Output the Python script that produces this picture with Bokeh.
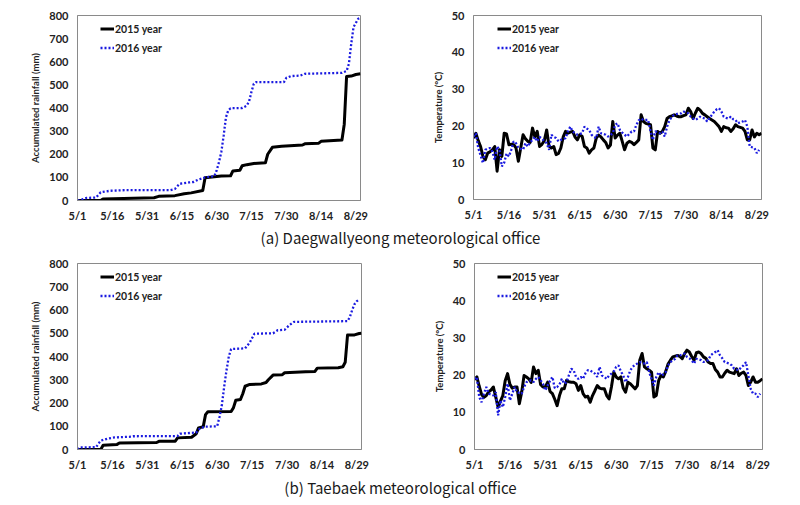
import numpy as np
from bokeh.plotting import figure
from bokeh.layouts import column, row
from bokeh.models import FixedTicker, Range1d, Legend, LegendItem
from bokeh.core.properties import value
from bokeh.embed import file_html
from bokeh.resources import INLINE

# ---------------- data ----------------
tick_days = [0, 15, 30, 45, 60, 75, 90, 105, 120]
tick_labels = ["5/1", "5/16", "5/31", "6/15", "6/30", "7/15", "7/30", "8/14", "8/29"]
n_days = 123  # 5/1 .. 8/31

# accumulated rainfall (mm), Daegwallyeong: (day index, value)
rain15_a_day = [0, 10, 11, 33, 35, 42, 46, 49, 54, 55, 60, 62, 66, 67, 70, 71, 73, 76, 81, 82, 84, 88, 97, 98, 104, 105, 114, 115, 116, 118, 120, 122]
rain15_a_mm = [0, 0, 7, 12, 18, 21, 29, 33, 43, 98, 104, 106, 107, 128, 131, 150, 155, 160, 163, 200, 230, 235, 240, 245, 248, 256, 262, 330, 536, 538, 545, 548]
rain16_a_day = [0, 2, 4, 8, 10, 14, 21, 40, 42, 44, 48, 50, 52, 55, 59, 60, 61, 62, 63, 64, 65, 66, 71, 73, 74, 75, 76, 77, 89, 90, 92, 96, 98, 114, 116, 117, 118, 119, 121, 122]
rain16_a_mm = [0, 5, 11, 13, 36, 42, 45, 45, 50, 72, 78, 80, 90, 100, 105, 130, 166, 210, 280, 360, 390, 399, 400, 410, 430, 470, 505, 512, 512, 530, 538, 540, 548, 552, 560, 591, 677, 750, 786, 790]

# accumulated rainfall (mm), Taebaek
rain15_b_day = [0, 10, 11, 17, 18, 34, 35, 42, 43, 49, 51, 52, 54, 55, 56, 66, 67, 68, 70, 71, 72, 74, 79, 81, 82, 84, 88, 89, 98, 102, 103, 112, 114, 115, 116, 119, 121, 122]
rain15_b_mm = [0, 0, 18, 22, 28, 30, 35, 36, 50, 53, 68, 93, 98, 150, 162, 163, 180, 212, 215, 240, 272, 280, 282, 288, 300, 320, 322, 330, 334, 336, 350, 352, 356, 375, 492, 493, 499, 500]
rain16_b_day = [0, 1, 8, 9, 10, 13, 16, 23, 24, 43, 44, 51, 52, 53, 55, 60, 61, 62, 63, 64, 65, 66, 72, 74, 76, 84, 86, 89, 91, 93, 116, 117, 118, 119, 120, 121]
rain16_b_mm = [0, 9, 10, 25, 38, 47, 52, 55, 57, 58, 68, 73, 85, 93, 98, 100, 140, 190, 270, 340, 400, 432, 435, 460, 498, 500, 513, 515, 535, 549, 552, 570, 600, 625, 638, 645]

# daily temperature (degC), Daegwallyeong
temp15_a = [16.7, 18, 16, 14.4, 11.7, 10.8, 12.6, 13, 13.5, 14.4,
            7.7, 13.5, 11.7, 18, 17.8, 14.9, 15, 14.9, 14, 10.4,
            14, 17.6, 16.5, 15.8, 15.5, 19.4, 17, 18.5, 14.4, 15,
            16, 18.9, 14.5, 14, 14.4, 12.2, 12.5, 14, 17, 18.5,
            18, 18.3, 18.5, 17, 16.2, 17.6, 17.2, 14.4, 14, 12.6,
            13.5, 14, 16.7, 17.5, 17, 16.2, 15.5, 14, 14.8, 21.2,
            16.7, 17.5, 18, 15.8, 13.5, 15.3, 15.8, 15.5, 14.9, 15.5,
            16.2, 23, 21.2, 20.7, 20.5, 20.3, 14, 13.5, 18.5, 18,
            18.5, 19.8, 22, 22.5, 22.7, 23, 22.7, 22.5, 22.5, 22.8,
            23, 24.8, 23.9, 22, 23.5, 24.8, 24.3, 23.4, 23, 22.5,
            22, 21.6, 21.2, 20.5, 19.8, 18.5, 19.8, 19.5, 19.4, 18.5,
            19.2, 20.3, 19.8, 19.6, 19.4, 18.5, 16.2, 16.2, 18.9, 17,
            18, 17.6, 18]
temp16_a = [17.1, 18, 14, 12, 9.9, 13.5, 13.8, 14, 13, 10.8,
            14.4, 13.5, 9, 10, 12.5, 11.7, 13.5, 15.8, 15.3, 14,
            13.8, 13.5, 15.3, 14.4, 15.5, 16.2, 17, 15.8, 17, 16.5,
            15.8, 15.3, 13.5, 17.6, 17, 16.7, 15.8, 16.2, 16.5, 16.7,
            18.5, 19.8, 18.5, 18, 17.6, 17.8, 18, 19.8, 19.3, 18.9,
            17.6, 17, 16.7, 19.8, 18, 17.8, 17.6, 17.1, 17.5, 18,
            20.3, 20.7, 18.9, 18.2, 17.6, 17.1, 17.8, 18.5, 18.5, 20.3,
            21.5, 22, 21.6, 21.6, 21.6, 18.5, 16.2, 18.5, 18.3, 18,
            18.5, 17.1, 19.8, 21.5, 22.5, 23, 23.2, 23.4, 23.4, 23.9,
            23.6, 23.4, 22.5, 22, 21.6, 22, 22.5, 22.2, 22, 21.2,
            22.2, 23, 23.9, 24.5, 24.8, 23.9, 22.5, 22.2, 22, 22.5,
            21.8, 21.6, 20.7, 21, 21.2, 21.6, 19.8, 14.4, 14.2, 14,
            12.6, 13.5, 13.5]

# daily temperature (degC), Taebaek
temp15_b = [18.8, 19.5, 17, 14.8, 14, 14.5, 15.5, 16, 16.8, 14.1,
            11.4, 13, 14.5, 18.5, 20.4, 17.5, 16.5, 16.8, 16.8, 12.3,
            15.5, 19.9, 19.5, 19, 18, 22.2, 20.4, 21.3, 17.5, 16.8,
            16.8, 18.1, 15.6, 15, 13.5, 11.8, 14.5, 16.3, 16.3, 18.6,
            18.2, 18.1, 18.1, 17.7, 15.9, 17.2, 15, 14.1, 14.3, 12.7,
            14.5, 15.8, 17.2, 16.5, 16.3, 16.3, 14.5, 13.6, 16.8, 20.8,
            19.5, 19, 19.5, 16.5, 15.4, 18.1, 17.7, 17, 16.3, 17.2,
            24, 25.8, 22.2, 21.7, 21.3, 20.8, 14.1, 14.5, 18.5, 19.9,
            19.5, 21, 23, 24, 24.9, 25.1, 25.3, 25, 24.4, 25.8,
            26.7, 26.2, 25, 24, 26, 26.2, 25.8, 24.9, 24.5, 23.5,
            23.1, 23.1, 21.5, 20.8, 19.5, 19.5, 20.5, 21.3, 20.8, 20.6,
            20.4, 21.7, 19.9, 20.5, 20.8, 19.9, 17.2, 18.1, 19.5, 18.1,
            18.1, 18.5, 19]
temp16_b = [19, 19.5, 14.1, 12.7, 15, 16.8, 15, 14.8, 14.5, 15.4,
            9.2, 13.2, 11.4, 14.1, 17.7, 13.2, 15, 16.8, 15.4, 15.2,
            15, 16.8, 18.1, 18.4, 18.6, 18.1, 19, 19.5, 18.6, 17.7,
            15.9, 17.2, 18.5, 19.5, 16.5, 16.8, 17.5, 19, 17.7, 18.1,
            20, 21.7, 21.3, 19.5, 19, 19.5, 19, 20.5, 21.3, 21.3,
            20.8, 20.4, 19.5, 22.2, 19.9, 19.5, 19, 19.9, 20.4, 21,
            22.2, 22.6, 21, 19.9, 18.1, 19.5, 21.3, 22.2, 22.8, 23.1,
            23.5, 23.3, 23.1, 23.5, 20.8, 19, 17.2, 19.5, 20.8, 19.9,
            20.2, 20.8, 22.6, 23.5, 24, 24.4, 25.3, 25.3, 25.5, 25.8,
            24.9, 24.5, 24, 23.1, 24.4, 24.2, 24, 23.5, 23.8, 24,
            25.3, 25.8, 26.2, 26.7, 25.3, 24.5, 23.5, 23.3, 23.1, 22.6,
            21.7, 21.5, 21.3, 22.2, 22.6, 23.5, 19.9, 16.3, 15, 15,
            14.1, 15, 15]

series_names = ["2015 year", "2016 year"]
captions = ["(a) Daegwallyeong meteorological office", "(b) Taebaek meteorological office"]

# ---------------- styling ----------------
FONT = "Lato"
TXT = "#222222"
BLUE = "#1a1ae0"
day_x = list(range(n_days))


def make_panel(x15, y15, x16, y16, ymax, ystep, ylabel, fw, fh, bl, br, bt, bb, leg_x, leg_top):
    p = figure(frame_width=fw, frame_height=fh, output_backend="svg", toolbar_location=None,
               x_range=Range1d(0, 122), y_range=Range1d(0, ymax),
               min_border_left=bl, min_border_right=br, min_border_top=bt, min_border_bottom=bb,
               background_fill_color="white", border_fill_color="white")
    p.outline_line_color = "#8a8a8a"
    p.outline_line_width = 1
    p.grid.visible = False
    for ax in (p.xaxis[0], p.yaxis[0]):
        ax.axis_line_color = "#8a8a8a"
        ax.major_tick_line_color = None
        ax.minor_tick_line_color = None
        ax.major_tick_out = 0
        ax.major_tick_in = 0
        ax.minor_tick_out = 0
        ax.minor_tick_in = 0
        ax.major_label_text_font = FONT
        ax.major_label_text_font_style = "bold"
        ax.major_label_text_font_size = "11px"
        ax.major_label_text_color = TXT
    p.xaxis.ticker = FixedTicker(ticks=tick_days)
    p.xaxis.major_label_overrides = {d: l for d, l in zip(tick_days, tick_labels)}
    p.xaxis.major_label_standoff = 8
    p.yaxis.ticker = FixedTicker(ticks=list(range(0, ymax + 1, ystep)))
    p.yaxis.major_label_standoff = 9
    p.yaxis.axis_label = ylabel
    p.yaxis.axis_label_text_font = FONT
    p.yaxis.axis_label_text_font_style = "bold"
    p.yaxis.axis_label_text_font_size = "9.5px"
    p.yaxis.axis_label_text_color = TXT
    p.yaxis.axis_label_standoff = 5

    r15 = p.line(x15, y15, line_color="black", line_width=3, line_join="round")
    r16 = p.line(x16, y16, line_color=BLUE, line_width=2.3, line_dash="2 2")
    leg = Legend(items=[LegendItem(label=series_names[0], renderers=[r15]),
                        LegendItem(label=series_names[1], renderers=[r16])],
                 location=(leg_x, fh - leg_top - 32), orientation="vertical",
                 padding=0, margin=0, spacing=6, label_height=13, glyph_height=13,
                 glyph_width=14, label_standoff=1, border_line_color=None,
                 background_fill_alpha=0,
                 label_text_font=FONT, label_text_font_style="bold",
                 label_text_font_size="10.5px", label_text_color=TXT)
    p.add_layout(leg, "center")
    return p


def make_caption(text, h, ytext, w):
    c = figure(width=w, height=h, output_backend="svg", toolbar_location=None,
               x_range=Range1d(0, w), y_range=Range1d(0, h),
               min_border_left=0, min_border_right=0, min_border_top=0, min_border_bottom=0,
               border_fill_color="white", background_fill_color="white")
    c.axis.visible = False
    c.grid.visible = False
    c.outline_line_color = None
    c.text(x=[400], y=[ytext], text=[text], text_align="center", text_baseline="middle",
           text_font=value("Noto Sans CJK KR"), text_font_size="15px", text_color="#1a1a1a")
    return c


p1 = make_panel(rain15_a_day, rain15_a_mm, rain16_a_day, rain16_a_mm, 800, 100,
                "Accumulated rainfall (mm)", 283, 185, 77, 40, 15, 23, 23, 7)
p2 = make_panel(day_x, temp15_a, day_x[:122], temp16_a[:122], 50, 10,
                "Temperature (°C)", 288, 184, 73, 30, 15, 24, 24, 7)
cap1 = make_caption(captions[0], 29, 16, 791)
p3 = make_panel(rain15_b_day, rain15_b_mm, rain16_b_day, rain16_b_mm, 800, 100,
                "Accumulated rainfall (mm)", 284, 186, 77, 39, 10, 22, 23, 7)
p4 = make_panel(day_x, temp15_b, day_x[:122], temp16_b[:122], 50, 10,
                "Temperature (°C)", 288, 186, 74, 29, 10, 22, 23, 7)
cap2 = make_caption(captions[1], 26, 12, 791)

layout = column(row(p1, p2), cap1, row(p3, p4), cap2)
open("out.html", "w").write(file_html(layout, INLINE))
